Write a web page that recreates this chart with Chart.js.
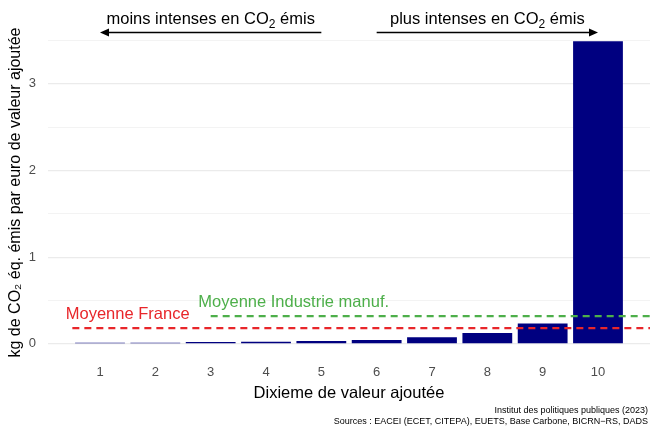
<!DOCTYPE html>
<html>
<head>
<meta charset="utf-8">
<script src="https://cdn.jsdelivr.net/npm/chart.js@4"></script>
<style>
html,body{margin:0;padding:0;background:#fff;}
#wrap{width:651px;height:428px;position:relative;}
</style>
</head>
<body>
<div id="wrap"><canvas id="c"></canvas></div>
<script>
// ---- data ----
const deciles = [1, 2, 3, 4, 5, 6, 7, 8, 9, 10];
const intensity = [0.012, 0.012, 0.022, 0.024, 0.032, 0.044, 0.077, 0.125, 0.235, 3.49];
const moyenneFrance = 0.18;
const moyenneIndustrie = 0.32;
const yTickLabels = [0, 1, 2, 3];
const yMinorTicks = [0.5, 1.5, 2.5, 3.5];
const franceLabel = 'Moyenne France';
const industrieLabel = 'Moyenne Industrie manuf.';
const captionLines = ['Institut des politiques publiques (2023)',
  'Sources : EACEI (ECET, CITEPA), EUETS, Base Carbone, BICRN\u2212RS, DADS'];

// ---- layout constants ----
const X_MIN = 0.06, X_MAX = 10.94;
const Y_MIN = -0.175, Y_MAX = 3.665;
const FONT = '"Liberation Sans", Arial, Helvetica, sans-serif';
const RED = '#e8262a', GREEN = '#4daf4a', NAVY = '#000080';
const BIG = 16.5;

const barData = deciles.map((d, i) => ({x: d, y: intensity[i]}));
const franceLine = [{x: 0.5, y: moyenneFrance}, {x: X_MAX, y: moyenneFrance}];
const industrieLine = [{x: 3, y: moyenneIndustrie}, {x: X_MAX, y: moyenneIndustrie}];

function drawCO2Text(ctx, pre, post, cx, cy, size) {
  ctx.save();
  ctx.textBaseline = 'alphabetic';
  ctx.textAlign = 'left';
  const f = size + 'px ' + FONT;
  const fs = Math.round(size * 0.72) + 'px ' + FONT;
  ctx.font = f;
  const w1 = ctx.measureText(pre + 'CO').width;
  const w3 = ctx.measureText(post).width;
  ctx.font = fs;
  const w2 = ctx.measureText('2').width;
  const total = w1 + w2 + w3;
  let x = cx - total / 2;
  ctx.font = f;
  ctx.fillText(pre + 'CO', x, cy);
  ctx.font = fs;
  ctx.fillText('2', x + w1, cy + size * 0.25);
  ctx.font = f;
  ctx.fillText(post, x + w1 + w2, cy);
  ctx.restore();
}

function arrow(ctx, x1, x2, y) {
  ctx.save();
  ctx.strokeStyle = '#000';
  ctx.fillStyle = '#000';
  ctx.lineWidth = 1.7;
  const dir = Math.sign(x2 - x1);
  const head = 9;
  ctx.beginPath();
  ctx.moveTo(x1, y);
  ctx.lineTo(x2 - dir * head * 0.6, y);
  ctx.stroke();
  ctx.beginPath();
  ctx.moveTo(x2, y);
  ctx.lineTo(x2 - dir * head, y - 4);
  ctx.lineTo(x2 - dir * head, y + 4);
  ctx.closePath();
  ctx.fill();
  ctx.restore();
}

const annotations = {
  id: 'annotations',
  afterDraw(chart) {
    const ctx = chart.ctx;
    const xs = chart.scales.x, ys = chart.scales.y;
    const yArrow = ys.getPixelForValue(3.59);
    const yText = ys.getPixelForValue(3.685);
    arrow(ctx, xs.getPixelForValue(5), xs.getPixelForValue(1), yArrow);
    arrow(ctx, xs.getPixelForValue(6), xs.getPixelForValue(10), yArrow);
    ctx.fillStyle = '#000';
    drawCO2Text(ctx, 'moins intenses en ', ' émis', xs.getPixelForValue(3), yText, BIG);
    drawCO2Text(ctx, 'plus intenses en ', ' émis', xs.getPixelForValue(8), yText, BIG);
    ctx.save();
    ctx.font = BIG + 'px ' + FONT;
    ctx.textAlign = 'center';
    ctx.textBaseline = 'middle';
    ctx.fillStyle = RED;
    ctx.fillText(franceLabel, xs.getPixelForValue(1.5), ys.getPixelForValue(moyenneFrance + 0.155));
    ctx.fillStyle = GREEN;
    ctx.fillText(industrieLabel, xs.getPixelForValue(4.5), ys.getPixelForValue(moyenneIndustrie + 0.16));
    ctx.font = '9px ' + FONT;
    ctx.textAlign = 'right';
    ctx.textBaseline = 'middle';
    ctx.fillStyle = '#000';
    ctx.fillText(captionLines[0], 648, 411);
    ctx.fillText(captionLines[1], 648, 422);
    ctx.restore();
  }
};

new Chart(document.getElementById('c'), {
  type: 'bar',
  data: {
    datasets: [
      {
        type: 'line', data: industrieLine, borderColor: GREEN, borderWidth: 2.2,
        borderDash: [7, 5], pointRadius: 0, fill: false, order: 0, clip: false
      },
      {
        type: 'line', data: franceLine, borderColor: RED, borderWidth: 2.2,
        borderDash: [7, 5], pointRadius: 0, fill: false, order: 0, clip: false
      },
      {
        type: 'bar', data: barData, backgroundColor: NAVY, borderWidth: 0,
        barPercentage: 0.9, categoryPercentage: 1, order: 1
      }
    ]
  },
  options: {
    responsive: true,
    maintainAspectRatio: false,
    animation: false,
    layout: {padding: {top: 26, right: 1, left: 0, bottom: 0}},
    plugins: {legend: {display: false}, tooltip: {enabled: false}},
    scales: {
      x: {
        type: 'linear', min: X_MIN, max: X_MAX, offset: false,
        grid: {display: false, drawTicks: false},
        border: {display: false},
        afterBuildTicks(scale) { scale.ticks = deciles.map(v => ({value: v})); },
        ticks: {
          color: '#4d4d4d', font: {family: FONT, size: 13}, padding: 6,
          autoSkip: false, maxRotation: 0,
          callback: (v) => String(v)
        },
        title: {
          display: true, text: 'Dixieme de valeur ajoutée', color: '#000',
          font: {family: FONT, size: BIG}, padding: {top: 0, bottom: 25}
        },
        afterFit(scale) { scale.height = 69; }
      },
      y: {
        min: Y_MIN, max: Y_MAX,
        afterBuildTicks(scale) {
          scale.ticks = yTickLabels.concat(yMinorTicks).sort((a, b) => a - b).map(v => ({value: v}));
        },
        grid: {
          drawTicks: false,
          color: '#ebebeb',
          lineWidth: (c) => (yTickLabels.includes(c.tick.value) ? 1.2 : 0.6)
        },
        border: {display: false},
        ticks: {
          color: '#4d4d4d', font: {family: FONT, size: 13}, padding: 12,
          callback: (v) => (yTickLabels.includes(v) ? String(v) : '')
        },
        title: {
          display: true, text: 'kg de CO\u2082 éq. émis par euro de valeur ajoutée', color: '#000',
          font: {family: FONT, size: 16}, padding: {top: 6, bottom: 0}
        },
        afterFit(scale) { scale.width = 48; }
      }
    }
  },
  plugins: [annotations]
});
</script>
</body>
</html>
